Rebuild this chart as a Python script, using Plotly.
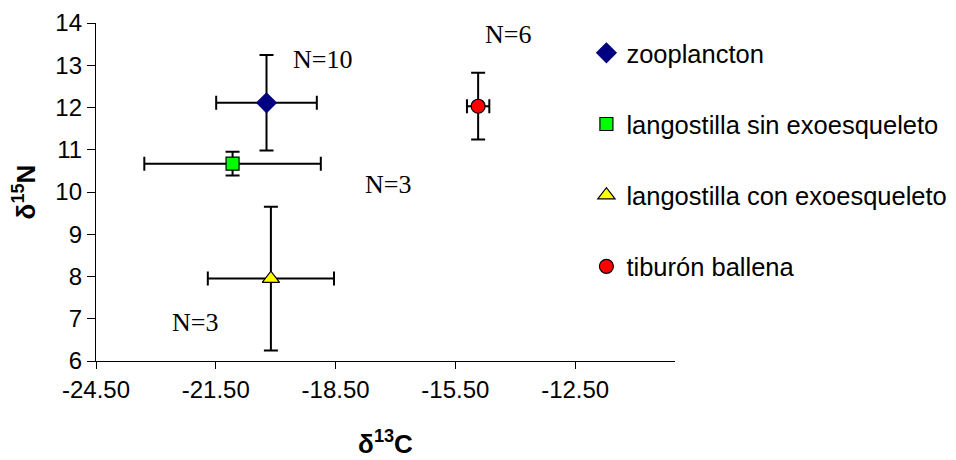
import plotly.graph_objects as go

names = ["zooplancton", "langostilla sin exoesqueleto", "langostilla con exoesqueleto", "tiburón ballena"]
d13C = [-20.23, -21.08, -20.12, -14.93]
d15N = [12.11, 10.67, 7.95, 12.03]
err_C = [1.26, 2.21, 1.58, 0.28]
err_N = [1.13, 0.28, 1.70, 0.79]
symbols = ["diamond", "square", "triangle-up", "circle"]
fills = ["#000080", "#00FF00", "#FFFF00", "#FF0000"]
outlines = ["#000080", "#000000", "#000000", "#000000"]
sizes = [15, 13, 15, 14]

x_ticks = [-24.5, -21.5, -18.5, -15.5, -12.5]
y_ticks = [6, 7, 8, 9, 10, 11, 12, 13, 14]

ann_text = ["N=10", "N=3", "N=3", "N=6"]
ann_x = [-18.83, -17.19, -22.02, -14.19]
ann_y = [13.14, 10.18, 6.91, 13.72]

fig = go.Figure()
for i in range(len(names)):
    fig.add_trace(go.Scatter(
        x=[d13C[i]], y=[d15N[i]], mode="markers", name=names[i],
        legendgroup=f"g{i}",
        marker=dict(symbol=symbols[i], size=sizes[i], color=fills[i],
                    line=dict(color=outlines[i], width=1.2)),
        error_x=dict(type="data", array=[err_C[i]], color="black", thickness=2, width=7),
        error_y=dict(type="data", array=[err_N[i]], color="black", thickness=2, width=7),
    ))

for t, ax, ay in zip(ann_text, ann_x, ann_y):
    fig.add_annotation(x=ax, y=ay, text=t, showarrow=False,
                       font=dict(family="Liberation Serif", size=26, color="black"))

fig.update_layout(
    width=948, height=452,
    margin=dict(l=88, r=281, t=15, b=99, autoexpand=False),
    paper_bgcolor="white", plot_bgcolor="white",
    font=dict(family="Liberation Sans, Arial", color="black"),
    legend=dict(x=0.847, y=0.98, xanchor="left", yanchor="top",
                font=dict(size=25.5, family="Liberation Sans, Arial"),
                tracegroupgap=35, bgcolor="rgba(0,0,0,0)", itemwidth=30),
    showlegend=True,
)
fig.update_xaxes(
    range=[-24.5, -10], tickvals=x_ticks, ticktext=[f"{v:.2f}" for v in x_ticks],
    showgrid=False, zeroline=False, showline=True, linecolor="black", linewidth=1.3,
    ticks="outside", ticklen=7, tickcolor="black", tickwidth=1.3, automargin=False,
    tickfont=dict(size=24), title=dict(text="<b>δ<sup>13</sup>C</b>", font=dict(size=26), standoff=32),
)
fig.update_yaxes(
    range=[6, 14], tickvals=y_ticks, ticktext=[str(v) for v in y_ticks],
    showgrid=False, zeroline=False, showline=True, linecolor="black", linewidth=1.3,
    ticks="outside", ticklen=8, tickcolor="black", tickwidth=1.3, automargin=False,
    tickfont=dict(size=24), title=dict(text="<b>δ<sup>15</sup>N</b>", font=dict(size=26), standoff=22),
)

fig.write_html("out.html")
